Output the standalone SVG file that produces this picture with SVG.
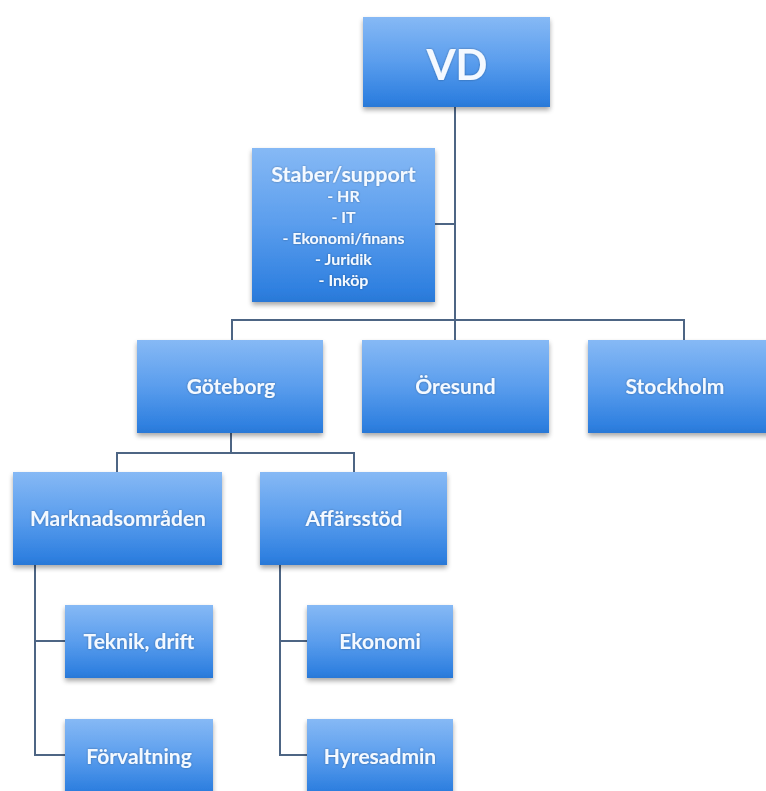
<svg xmlns="http://www.w3.org/2000/svg" width="766" height="791" viewBox="0 0 766 791">
  <defs>
    <linearGradient id="boxFill" x1="0" y1="0" x2="0" y2="1">
      <stop offset="0" stop-color="#86b9f5"/>
      <stop offset="0.5" stop-color="#5a9ded"/>
      <stop offset="0.92" stop-color="#2f80e0"/>
      <stop offset="1" stop-color="#2a78d6"/>
    </linearGradient>
    <filter id="shadow" x="-10%" y="-10%" width="120%" height="130%">
      <feGaussianBlur in="SourceAlpha" stdDeviation="2.5"/>
      <feOffset dx="0" dy="3" result="b"/>
      <feComponentTransfer><feFuncA type="linear" slope="0.35"/></feComponentTransfer>
      <feMerge><feMergeNode/><feMergeNode in="SourceGraphic"/></feMerge>
    </filter>
    <filter id="glow" x="-10%" y="-30%" width="120%" height="160%">
      <feGaussianBlur in="SourceAlpha" stdDeviation="1.2"/>
      <feComponentTransfer><feFuncA type="linear" slope="0.35"/></feComponentTransfer>
      <feMerge><feMergeNode/><feMergeNode in="SourceGraphic"/></feMerge>
    </filter>
  </defs>
  <style>
    .box { fill: url(#boxFill); filter: url(#shadow); }
    .lbl { font-family: "Lato", "Open Sans", "Liberation Sans", sans-serif; font-weight: 700; fill: #f4f9ff; text-anchor: middle; filter: url(#glow); }
    .conn { fill: none; stroke: #4d6584; stroke-width: 2; }
  </style>
  <rect width="766" height="791" fill="#ffffff"/>

  <g id="connectors">
    <path class="conn" d="M455 107 V320"/>
    <path class="conn" d="M435 224 H455"/>
    <path class="conn" d="M232 340 V320 H684 V340"/>
    <path class="conn" d="M455 320 V340"/>
    <path class="conn" d="M231 433 V453"/>
    <path class="conn" d="M117 472 V453 H354 V472"/>
    <path class="conn" d="M35 565 V755 H65"/>
    <path class="conn" d="M35 641 H65"/>
    <path class="conn" d="M280 565 V755 H307"/>
    <path class="conn" d="M280 641 H307"/>
  </g>

  <g id="vd">
    <rect class="box" x="363" y="17" width="187" height="90"/>
    <text class="lbl" x="457" y="80" font-size="42" font-weight="400">VD</text>
  </g>

  <g id="staber">
    <rect class="box" x="252" y="148" width="183" height="154"/>
    <text class="lbl" x="343.5" y="182" font-size="21.5">Staber/support</text>
    <text class="lbl" x="343.5" y="202" font-size="16">- HR</text>
    <text class="lbl" x="343.5" y="223" font-size="16">- IT</text>
    <text class="lbl" x="343.5" y="244" font-size="16">- Ekonomi/finans</text>
    <text class="lbl" x="343.5" y="265" font-size="16">- Juridik</text>
    <text class="lbl" x="343.5" y="286" font-size="16">- Inköp</text>
  </g>

  <g id="goteborg">
    <rect class="box" x="137" y="340" width="186" height="93"/>
    <text class="lbl" x="231" y="394" font-size="21">Göteborg</text>
  </g>

  <g id="oresund">
    <rect class="box" x="362" y="340" width="187" height="93"/>
    <text class="lbl" x="455.5" y="394" font-size="21">Öresund</text>
  </g>

  <g id="stockholm">
    <rect class="box" x="588" y="340" width="187" height="93"/>
    <text class="lbl" x="675" y="394" font-size="21">Stockholm</text>
  </g>

  <g id="marknadsomraden">
    <rect class="box" x="13" y="472" width="209" height="93"/>
    <text class="lbl" x="118" y="526" font-size="21">Marknadsområden</text>
  </g>

  <g id="affarsstod">
    <rect class="box" x="260" y="472" width="187" height="93"/>
    <text class="lbl" x="354" y="526" font-size="21">Affärsstöd</text>
  </g>

  <g id="teknik">
    <rect class="box" x="65" y="605" width="148" height="73"/>
    <text class="lbl" x="139" y="649" font-size="21">Teknik, drift</text>
  </g>

  <g id="forvaltning">
    <rect class="box" x="65" y="719" width="148" height="76"/>
    <text class="lbl" x="139" y="764" font-size="21">Förvaltning</text>
  </g>

  <g id="ekonomi">
    <rect class="box" x="307" y="605" width="146" height="73"/>
    <text class="lbl" x="380" y="649" font-size="21">Ekonomi</text>
  </g>

  <g id="hyresadmin">
    <rect class="box" x="307" y="719" width="146" height="76"/>
    <text class="lbl" x="380" y="764" font-size="21">Hyresadmin</text>
  </g>
</svg>
